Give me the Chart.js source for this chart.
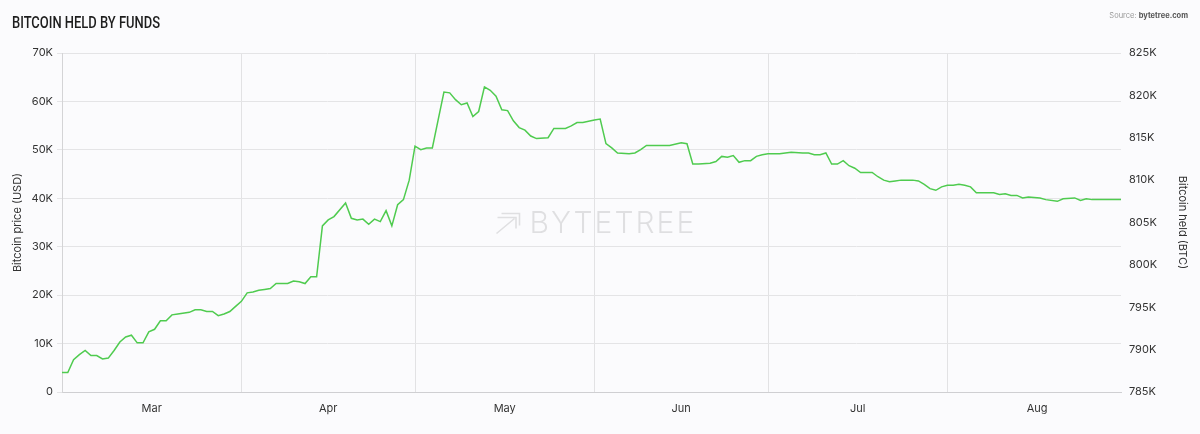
<!DOCTYPE html>
<html>
<head>
<meta charset="utf-8">
<script src="https://cdn.jsdelivr.net/npm/chart.js@4.4.1/dist/chart.umd.min.js"></script>
<style>
  html, body { margin: 0; padding: 0; background: #fbfbfd; }
  #wrap { position: relative; width: 1200px; height: 434px; }
  #title {
    position: absolute; left: 12px; top: 13px;
    font: 500 16px "Roboto", "Liberation Sans", sans-serif;
    color: #1e1e1e; transform-origin: 0 0; white-space: nowrap;
  }
  #source {
    position: absolute; right: 12px; top: 11px;
    font: 7.5px "Inter", "Liberation Sans", sans-serif; color: #999;
  }
  #source b { color: #555; }
</style>
</head>
<body>
<div id="wrap">
  <canvas id="fundsChart" width="1200" height="434"></canvas>
  <div id="title">BITCOIN HELD BY FUNDS</div>
  <div id="source">Source: <b>bytetree.com</b></div>
</div>
<script>
// Bitcoin held by funds (thousand BTC)
const dates = [
  '2021-03-01', '2021-03-02', '2021-03-03', '2021-03-04', '2021-03-05', '2021-03-06', '2021-03-07', '2021-03-08',
  '2021-03-09', '2021-03-10', '2021-03-11', '2021-03-12', '2021-03-13', '2021-03-14', '2021-03-15', '2021-03-16',
  '2021-03-17', '2021-03-18', '2021-03-19', '2021-03-20', '2021-03-21', '2021-03-23', '2021-03-24', '2021-03-25',
  '2021-03-26', '2021-03-27', '2021-03-28', '2021-03-29', '2021-03-30', '2021-03-31',
  '2021-04-01', '2021-04-02', '2021-04-03', '2021-04-04', '2021-04-05', '2021-04-06', '2021-04-07', '2021-04-09',
  '2021-04-10', '2021-04-11', '2021-04-12', '2021-04-13', '2021-04-14', '2021-04-15', '2021-04-16', '2021-04-17',
  '2021-04-19', '2021-04-20', '2021-04-21', '2021-04-22', '2021-04-23', '2021-04-24', '2021-04-25', '2021-04-26',
  '2021-04-27', '2021-04-28', '2021-04-29', '2021-04-30',
  '2021-05-01', '2021-05-02', '2021-05-03', '2021-05-04', '2021-05-05', '2021-05-06', '2021-05-07', '2021-05-08',
  '2021-05-09', '2021-05-10', '2021-05-11', '2021-05-12', '2021-05-13', '2021-05-14', '2021-05-15', '2021-05-16',
  '2021-05-17', '2021-05-18', '2021-05-19', '2021-05-20', '2021-05-21', '2021-05-22', '2021-05-24', '2021-05-25',
  '2021-05-27', '2021-05-28', '2021-05-29', '2021-05-30',
  '2021-06-01', '2021-06-02', '2021-06-03', '2021-06-04', '2021-06-05', '2021-06-07', '2021-06-08', '2021-06-09',
  '2021-06-10', '2021-06-11', '2021-06-14', '2021-06-16', '2021-06-17', '2021-06-18', '2021-06-19', '2021-06-21',
  '2021-06-22', '2021-06-23', '2021-06-24', '2021-06-25', '2021-06-26', '2021-06-27', '2021-06-28', '2021-06-29',
  '2021-06-30',
  '2021-07-01', '2021-07-03', '2021-07-04', '2021-07-05', '2021-07-07', '2021-07-08', '2021-07-09', '2021-07-10',
  '2021-07-11', '2021-07-12', '2021-07-13', '2021-07-14', '2021-07-15', '2021-07-16', '2021-07-17', '2021-07-18',
  '2021-07-19', '2021-07-20', '2021-07-21', '2021-07-22', '2021-07-23', '2021-07-24', '2021-07-26', '2021-07-27',
  '2021-07-28', '2021-07-29', '2021-07-30', '2021-07-31',
  '2021-08-01', '2021-08-02', '2021-08-03', '2021-08-04', '2021-08-05', '2021-08-06', '2021-08-08', '2021-08-09',
  '2021-08-10', '2021-08-11', '2021-08-12', '2021-08-13', '2021-08-14', '2021-08-15', '2021-08-17', '2021-08-18',
  '2021-08-20', '2021-08-21', '2021-08-23', '2021-08-24', '2021-08-25', '2021-08-26', '2021-08-28', '2021-08-31'
];
const btcHeld = [
  787.3, 787.3, 788.8, 789.4, 789.9, 789.3, 789.3, 788.9,
  789.0, 789.9, 790.9, 791.5, 791.7, 790.8, 790.8, 792.1,
  792.4, 793.4, 793.4, 794.1, 794.2, 794.4, 794.7, 794.7,
  794.5, 794.5, 794.0, 794.2, 794.5, 795.1,
  795.7, 796.7, 796.8, 797.0, 797.1, 797.2, 797.8, 797.8,
  798.1, 798.0, 797.8, 798.6, 798.6, 804.6, 805.3, 805.7,
  807.3, 805.5, 805.3, 805.4, 804.8, 805.4, 805.1, 806.4,
  804.6, 807.1, 807.7, 810.0,
  814.0, 813.6, 813.8, 813.8, 817.1, 820.4, 820.3, 819.5,
  818.9, 819.1, 817.5, 818.1, 821.0, 820.6, 819.9, 818.3,
  818.2, 817.0, 816.2, 815.9, 815.2, 814.9, 815.0, 816.1,
  816.1, 816.4, 816.8, 816.8,
  817.1, 817.2, 814.3, 813.8, 813.2, 813.1, 813.2, 813.6,
  814.1, 814.1, 814.1, 814.4, 814.3, 811.9, 811.9, 812.0,
  812.2, 812.8, 812.7, 812.9, 812.1, 812.3, 812.3, 812.8,
  813.0,
  813.1, 813.1, 813.2, 813.3, 813.2, 813.2, 813.0, 813.0,
  813.2, 811.9, 811.9, 812.3, 811.7, 811.4, 810.9, 810.9,
  810.9, 810.4, 810.0, 809.8, 809.9, 810.0, 810.0, 809.9,
  809.5, 809.0, 808.8, 809.2,
  809.4, 809.4, 809.5, 809.4, 809.2, 808.5, 808.5, 808.5,
  808.3, 808.4, 808.2, 808.2, 807.9, 808.0, 807.9, 807.7,
  807.5, 807.8, 807.9, 807.6, 807.8, 807.7, 807.7, 807.7
];

// month axis
const monthLabels = ['Mar', 'Apr', 'May', 'Jun', 'Jul', 'Aug'];
const monthStarts = ['2021-03-01', '2021-04-01', '2021-05-01', '2021-06-01', '2021-07-01', '2021-08-01', '2021-09-01'];
const lastDay = '2021-08-31';

const DAY = 86400000;
const origin = Date.parse(dates[0]);
const dayOf = (s) => (Date.parse(s) - origin) / DAY;

// gridlines at month starts, labels in the middle of each month
const tickDays = [];
for (let i = 0; i < monthLabels.length; i++) {
    const a = dayOf(monthStarts[i]);
    const b = dayOf(monthStarts[i + 1]);
    tickDays.push(a, (a + b) / 2);
}

const tickFont = { family: 'Inter, "Liberation Sans", sans-serif', size: 11 };

// light watermark in the middle of the plot
const watermark = {
    id: 'watermark',
    beforeDatasetsDraw(chart) {
        const { ctx, chartArea } = chart;
        const cx = (chartArea.left + chartArea.right) / 2;
        const cy = (chartArea.top + chartArea.bottom) / 2;
        ctx.save();
        ctx.fillStyle = 'rgba(0,0,0,0.11)';
        ctx.strokeStyle = 'rgba(0,0,0,0.11)';
        ctx.font = '300 30px Inter, "Liberation Sans", sans-serif';
        ctx.letterSpacing = '2px';
        ctx.textBaseline = 'middle';
        ctx.textAlign = 'left';
        ctx.fillText('BYTETREE', cx - 62, cy + 1);
        // arrow icon
        const ix = cx - 95, iy = cy - 9;
        ctx.lineWidth = 1.6;
        ctx.beginPath();
        ctx.moveTo(ix, iy + 20); ctx.lineTo(ix + 18, iy + 5);
        ctx.moveTo(ix + 5, iy); ctx.lineTo(ix + 23, iy); ctx.lineTo(ix + 23, iy + 12);
        ctx.moveTo(ix + 1, iy + 4); ctx.lineTo(ix + 19.5, iy + 4); ctx.lineTo(ix + 19.5, iy + 15);
        ctx.stroke();
        ctx.restore();
    }
};

const ctx = document.getElementById('fundsChart').getContext('2d');
const fundsChart = new Chart(ctx, {
    type: 'line',
    data: {
        datasets: [{
            label: 'Bitcoin held (BTC)',
            data: dates.map((d, i) => ({ x: dayOf(d), y: btcHeld[i] })),
            yAxisID: 'yHeld',
            borderColor: '#4fcb4f',
            borderWidth: 1.5,
            pointRadius: 0,
            tension: 0,
            fill: false
        }]
    },
    options: {
        responsive: false,
        animation: false,
        layout: { padding: { top: 53, left: 0, right: 0, bottom: 0 } },
        plugins: {
            legend: { display: false },
            tooltip: { enabled: false }
        },
        scales: {
            x: {
                type: 'linear',
                min: 0,
                max: dayOf(lastDay),
                afterBuildTicks: (axis) => { axis.ticks = tickDays.map(v => ({ value: v })); },
                afterFit: (scale) => { scale.height = 42; },
                ticks: {
                    autoSkip: false,
                    maxRotation: 0,
                    padding: 10,
                    color: '#333',
                    font: tickFont,
                    callback: (v, i) => (i % 2 ? monthLabels[(i - 1) / 2] : '')
                },
                grid: {
                    drawTicks: false,
                    color: (c) => (c.index % 2 === 0 ? '#e2e2e4' : 'rgba(0,0,0,0)')
                },
                border: { color: '#cfcfd2' }
            },
            yPrice: {
                type: 'linear',
                position: 'left',
                min: 0,
                max: 70000,
                afterFit: (scale) => { scale.width = 62; },
                ticks: {
                    stepSize: 10000,
                    padding: 4,
                    color: '#333',
                    font: tickFont,
                    callback: (v) => (v === 0 ? '0' : v / 1000 + 'K')
                },
                grid: { color: '#e4e4e6', tickLength: 5 },
                border: { color: '#d4d4d6' },
                title: {
                    display: true,
                    text: 'Bitcoin price (USD)',
                    color: '#333',
                    font: tickFont,
                    padding: { top: 11, bottom: 0 }
                }
            },
            yHeld: {
                type: 'linear',
                position: 'right',
                min: 785,
                max: 825,
                afterFit: (scale) => { scale.width = 79; },
                ticks: {
                    stepSize: 5,
                    padding: 8,
                    color: '#333',
                    font: tickFont,
                    callback: (v) => v + 'K'
                },
                grid: { display: false, drawTicks: false },
                border: { display: false },
                title: {
                    display: true,
                    text: 'Bitcoin held (BTC)',
                    color: '#333',
                    font: tickFont,
                    padding: { top: 11, bottom: 0 }
                }
            }
        }
    },
    plugins: [watermark]
});

// squeeze the title to the narrow width of the original
const t = document.getElementById('title');
t.style.transform = 'scaleX(' + (148 / t.getBoundingClientRect().width) + ')';
</script>
</body>
</html>
